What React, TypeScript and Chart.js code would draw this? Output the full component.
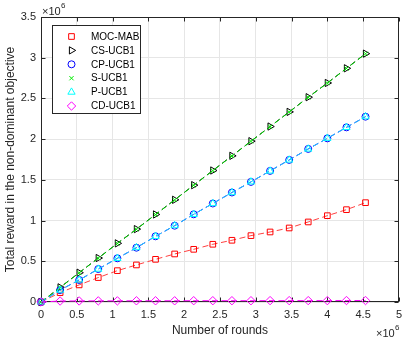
import React, { useEffect, useRef } from 'react';
import { Chart, registerables } from 'chart.js';

Chart.register(...registerables);

// x values in units of 10^6 rounds
const roundsM = [0, 0.267, 0.533, 0.8, 1.067, 1.333, 1.6, 1.867, 2.133, 2.4, 2.667, 2.933, 3.2, 3.467, 3.733, 4.0, 4.267, 4.533];
// rewards in units of 10^6
const mocMab = [0, 0.115, 0.21, 0.3, 0.385, 0.455, 0.524, 0.59, 0.647, 0.709, 0.758, 0.815, 0.86, 0.909, 0.983, 1.06, 1.134, 1.22];
const csUcb1 = [0, 0.18, 0.36, 0.54, 0.72, 0.895, 1.075, 1.255, 1.435, 1.615, 1.795, 1.975, 2.155, 2.335, 2.515, 2.69, 2.87, 3.05];
const cpUcb1 = [0, 0.147, 0.27, 0.405, 0.537, 0.667, 0.807, 0.937, 1.077, 1.21, 1.345, 1.475, 1.61, 1.745, 1.88, 2.01, 2.145, 2.276];
const sUcb1 = [0, 0.178, 0.358, 0.538, 0.718, 0.893, 1.073, 1.253, 1.433, 1.613, 1.793, 1.973, 2.153, 2.333, 2.513, 2.688, 2.868, 3.048];
const pUcb1 = [0, 0.146, 0.271, 0.404, 0.536, 0.668, 0.806, 0.938, 1.076, 1.209, 1.344, 1.476, 1.609, 1.744, 1.879, 2.011, 2.144, 2.275];
const cdUcb1 = [0, 0.012, 0.013, 0.014, 0.014, 0.015, 0.015, 0.015, 0.016, 0.016, 0.016, 0.016, 0.017, 0.017, 0.017, 0.017, 0.018, 0.018];

const seriesNames = ['MOC-MAB', 'CS-UCB1', 'CP-UCB1', 'S-UCB1', 'P-UCB1', 'CD-UCB1'];
const seriesColors = ['#ff0000', '#000000', '#0000ff', '#00ee00', '#00ffff', '#ff00ff'];
const lineColors = ['#ff4040', '#000000', '#0000ff', '#00dd00', '#22ccff', '#ff00ff'];
const seriesMarkers = ['rect', 'triangle', 'circle', 'crossRot', 'triangle', 'rectRot'];
const markerRotation = [0, 90, 0, 0, 0, 0];
const markerRadius = [4, 4.2, 3.5, 3, 4.2, 4.2];
const seriesValues = [mocMab, csUcb1, cpUcb1, sUcb1, pUcb1, cdUcb1];

const FONT = "'Liberation Sans', Arial, Helvetica, sans-serif";
const AXIS_COLOR = '#262626';

function drawMarker(ctx: CanvasRenderingContext2D, kind: string, rot: number, r: number, x: number, y: number) {
  ctx.beginPath();
  if (kind === 'rect') {
    const s = r * Math.SQRT1_2;
    ctx.rect(x - s, y - s, 2 * s, 2 * s);
  } else if (kind === 'circle') {
    ctx.arc(x, y, r, 0, Math.PI * 2);
  } else if (kind === 'triangle') {
    let rad = (rot * Math.PI) / 180;
    ctx.moveTo(x + Math.sin(rad) * r, y - Math.cos(rad) * r);
    rad += (2 * Math.PI) / 3;
    ctx.lineTo(x + Math.sin(rad) * r, y - Math.cos(rad) * r);
    rad += (2 * Math.PI) / 3;
    ctx.lineTo(x + Math.sin(rad) * r, y - Math.cos(rad) * r);
    ctx.closePath();
  } else if (kind === 'crossRot') {
    const s = r * Math.SQRT1_2;
    ctx.moveTo(x - s, y - s);
    ctx.lineTo(x + s, y + s);
    ctx.moveTo(x - s, y + s);
    ctx.lineTo(x + s, y - s);
  } else if (kind === 'rectRot') {
    ctx.moveTo(x - r, y);
    ctx.lineTo(x, y - r);
    ctx.lineTo(x + r, y);
    ctx.lineTo(x, y + r);
    ctx.closePath();
  }
  ctx.stroke();
}

const framePlugin = {
  id: 'frame',
  beforeDatasetsDraw(chart: any) {
    const { ctx, chartArea } = chart;
    const x = chart.scales.x;
    const y = chart.scales.y;
    const L = Math.round(chartArea.left) + 0.5;
    const R = Math.round(chartArea.right) - 0.5;
    const T = Math.round(chartArea.top) + 0.5;
    const B = Math.round(chartArea.bottom) - 0.5;
    ctx.save();
    ctx.strokeStyle = AXIS_COLOR;
    ctx.lineWidth = 1;
    ctx.strokeRect(L, T, R - L, B - T);
    const tl = 4;
    ctx.beginPath();
    x.ticks.forEach((t: any) => {
      const px = Math.round(x.getPixelForValue(t.value)) + 0.5;
      ctx.moveTo(px, B);
      ctx.lineTo(px, B - tl);
      ctx.moveTo(px, T);
      ctx.lineTo(px, T + tl);
    });
    y.ticks.forEach((t: any) => {
      const py = Math.round(y.getPixelForValue(t.value)) + 0.5;
      ctx.moveTo(L, py);
      ctx.lineTo(L + tl, py);
      ctx.moveTo(R, py);
      ctx.lineTo(R - tl, py);
    });
    ctx.stroke();

    // exponent labels
    ctx.fillStyle = AXIS_COLOR;
    ctx.textBaseline = 'middle';
    ctx.textAlign = 'left';
    ctx.font = `11px ${FONT}`;
    ctx.fillText('×10', 42, 12);
    ctx.font = `8px ${FONT}`;
    ctx.fillText('6', 61, 6);
    ctx.font = `11px ${FONT}`;
    ctx.fillText('×10', 376, 334);
    ctx.font = `8px ${FONT}`;
    ctx.fillText('6', 395, 328);
    ctx.restore();
  },
  afterDatasetsDraw(chart: any) {
    const { ctx } = chart;
    ctx.save();
    // legend
    const bx = 52.5, by = 25.5, bw = 88, bh = 88;
    ctx.fillStyle = '#ffffff';
    ctx.fillRect(bx, by, bw, bh);
    ctx.strokeStyle = AXIS_COLOR;
    ctx.lineWidth = 1;
    ctx.strokeRect(bx, by, bw, bh);
    ctx.font = `10px ${FONT}`;
    ctx.textBaseline = 'middle';
    ctx.textAlign = 'left';
    seriesNames.forEach((name, i) => {
      const ry = 36.5 + i * 13.9;
      ctx.strokeStyle = seriesColors[i];
      drawMarker(ctx, seriesMarkers[i], markerRotation[i], markerRadius[i], 71.5, ry);
      ctx.fillStyle = '#000000';
      ctx.fillText(name, 91, ry + 0.5);
    });
    ctx.restore();
  },
};

const fmt = (v: any) => String(Math.round(Number(v) * 10) / 10);

export default function App() {
  const ref = useRef<HTMLCanvasElement>(null);
  useEffect(() => {
    if (!ref.current) return;
    const datasets = seriesNames.map((name, i) => ({
      label: name,
      data: roundsM.map((xv, j) => ({ x: xv, y: seriesValues[i][j] })),
      borderColor: lineColors[i],
      borderWidth: 1,
      borderDash: [6, 3.5],
      pointStyle: seriesMarkers[i] as any,
      pointRotation: markerRotation[i],
      pointRadius: markerRadius[i],
      pointBorderColor: seriesColors[i],
      pointBackgroundColor: 'rgba(0,0,0,0)',
      pointBorderWidth: 1,
      fill: false,
      tension: 0,
      clip: false as any,
      order: 6 - i,
    }));
    const chart = new Chart(ref.current, {
      type: 'line',
      data: { datasets },
      plugins: [framePlugin],
      options: {
        animation: false,
        responsive: false,
        devicePixelRatio: 1,
        layout: { padding: { top: 17, right: 6, left: 0, bottom: 0 } },
        plugins: { legend: { display: false }, tooltip: { enabled: false } },
        scales: {
          x: {
            type: 'linear',
            min: 0,
            max: 5,
            afterFit: (s: any) => { s.height = 41; },
            ticks: { stepSize: 0.5, color: AXIS_COLOR, font: { family: FONT, size: 11 }, padding: 6, maxRotation: 0, autoSkip: false, callback: fmt },
            grid: { color: '#e6e6e6', drawTicks: false },
            border: { display: false },
            title: { display: true, text: 'Number of rounds', color: AXIS_COLOR, font: { family: FONT, size: 12 }, padding: { top: 0, bottom: 5 } },
          },
          y: {
            type: 'linear',
            min: 0,
            max: 3.5,
            afterFit: (s: any) => { s.width = 41; },
            ticks: { stepSize: 0.5, color: AXIS_COLOR, font: { family: FONT, size: 11 }, padding: 5, autoSkip: false, callback: fmt },
            grid: { color: '#e6e6e6', drawTicks: false },
            border: { display: false },
            title: { display: true, text: 'Total reward in the non-dominant objective', color: AXIS_COLOR, font: { family: FONT, size: 12 }, padding: { top: 3, bottom: 0 } },
          },
        },
      },
    });
    return () => chart.destroy();
  }, []);
  return (
    <div style={{ position: 'fixed', left: 0, top: 0, width: 408, height: 343, background: '#fff' }}>
      <canvas ref={ref} width={408} height={343} style={{ display: 'block' }} />
    </div>
  );
}
